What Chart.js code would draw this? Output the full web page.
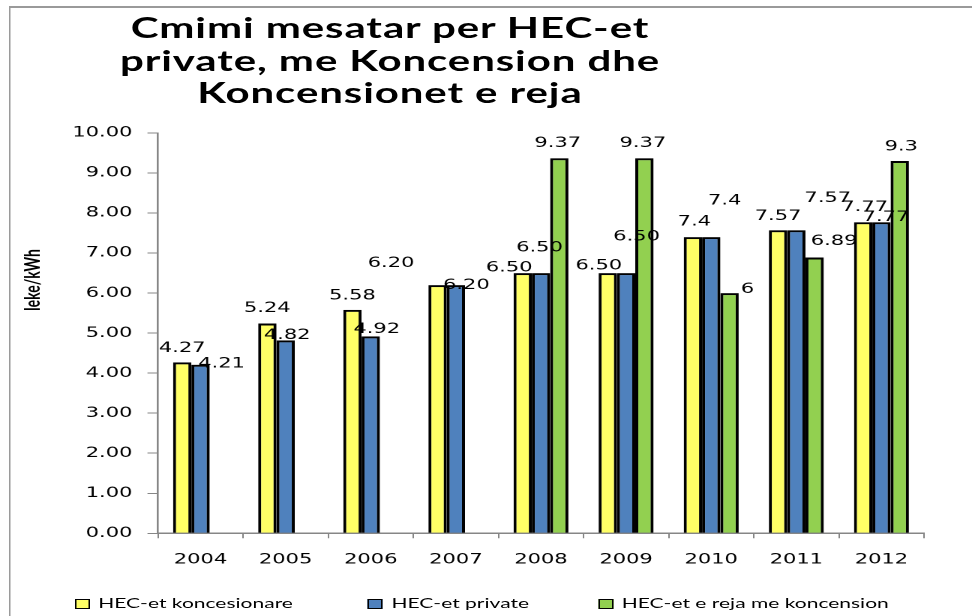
<!DOCTYPE html>
<html lang="sq">
<head>
<meta charset="UTF-8">
<title>Cmimi mesatar per HEC-et</title>
<script src="https://cdn.jsdelivr.net/npm/chart.js@4.4.0/dist/chart.umd.min.js"></script>
<style>
  html, body { margin: 0; padding: 0; background: #fff; overflow: hidden; }
  /* the original picture is an Excel chart stretched 1.5x sideways, so draw narrow and stretch */
  #wrap { position: absolute; left: 0; top: 0; width: 648px; height: 616px; transform: scaleX(1.5); transform-origin: 0 0; }
  #frame { position: absolute; left: 6px; top: 6px; width: 700px; height: 700px; border-top: 2px solid #9a9a9a; border-left: 1.4px solid #9a9a9a; }
  #title { position: absolute; left: 0; top: 11px; width: 520px; text-align: center; font: bold 28px Lato, sans-serif; letter-spacing: 0.6px; line-height: 32.5px; color: #000; }
  #c { position: absolute; left: 0; top: 0; }
  .leg { position: absolute; top: 596px; font: 14px Lato, sans-serif; color: #000; white-space: nowrap; line-height: 14px; }
  .leg i { display: inline-block; width: 8px; height: 8px; border: 1px solid #000; margin-right: 6px; vertical-align: -1px; }
</style>
</head>
<body>
<div id="wrap">
  <div id="frame"></div>
  <div id="title">Cmimi mesatar per HEC-et<br>private, me Koncension dhe<br>Koncensionet e reja</div>
  <canvas id="c" width="648" height="616"></canvas>
  <div class="leg" style="left:49.5px"><i style="background:#FFFF66"></i>HEC-et koncesionare</div>
  <div class="leg" style="left:245px"><i style="background:#4F81BD"></i>HEC-et private</div>
  <div class="leg" style="left:398.5px"><i style="background:#92D050"></i>HEC-et e reja me koncension</div>
</div>

<script>
  // Data
  const years = ['2004', '2005', '2006', '2007', '2008', '2009', '2010', '2011', '2012'];
  const koncesionare = [4.27, 5.24, 5.58, 6.20, 6.50, 6.50, 7.4, 7.57, 7.77];
  const hecPrivate = [4.21, 4.82, 4.92, 6.20, 6.50, 6.50, 7.4, 7.57, 7.77];
  const rejaKoncension = [null, null, null, null, 9.37, 9.37, 6, 6.89, 9.3];

  // label texts as printed on the chart
  const koncesionareText = ['4.27', '5.24', '5.58', '6.20', '6.50', '6.50', '7.4', '7.57', '7.77'];
  const privateText = ['4.21', '4.82', '4.92', '6.20', '6.50', '6.50', '7.4', '7.57', '7.77'];
  const rejaText = ['', '', '', '', '9.37', '9.37', '6', '6.89', '9.3'];

  // label nudges (the labels were dragged around in the original)
  const labelNudges = [
    { dx: [0, 0, 0, -31, -9, -6, 1, 0, 1], dy: [-14, -15, -14, -22, -5, -7, -15, -14, -15] },
    { dx: [14, 1, 4, 7, -1, 7, 9, 21, 3], dy: [-1, -5, -7, 0, -25, -36, -36, -32, -5] },
    { dx: [0, 0, 0, 0, -1, -1, 12, 13, 1], dy: [0, 0, 0, 0, -15, -15, -4, -16, -14] }
  ];
  const labelTexts = [koncesionareText, privateText, rejaText];

  const axisGray = '#868686';
  const tickFont = { family: 'DejaVu Sans', size: 14 };

  // bar shadow + value labels + y title
  const extras = {
    id: 'extras',
    beforeDatasetsDraw(chart) {
      const ctx = chart.ctx;
      ctx.save();
      ctx.shadowColor = 'rgba(0,0,0,0.3)';
      ctx.shadowBlur = 4;
      ctx.shadowOffsetX = 2;
      ctx.shadowOffsetY = 0;
    },
    afterDatasetsDraw(chart) {
      const ctx = chart.ctx;
      ctx.restore();
      ctx.save();
      ctx.font = '14px "DejaVu Sans"';
      ctx.fillStyle = '#000';
      ctx.textAlign = 'center';
      ctx.textBaseline = 'middle';
      chart.data.datasets.forEach((ds, di) => {
        const meta = chart.getDatasetMeta(di);
        meta.data.forEach((bar, i) => {
          if (ds.data[i] == null) return;
          const n = labelNudges[di];
          ctx.fillText(labelTexts[di][i], bar.x + n.dx[i], bar.y + n.dy[i]);
        });
      });
      ctx.restore();
    },
    afterDraw(chart) {
      const ctx = chart.ctx;
      ctx.save();
      ctx.translate(22, 280);
      ctx.rotate(-Math.PI / 2);
      ctx.font = 'bold 14px Lato';
      ctx.fillStyle = '#000';
      ctx.textAlign = 'center';
      ctx.textBaseline = 'middle';
      ctx.fillText('leke/kWh', 0, 0);
      ctx.restore();
    }
  };

  new Chart(document.getElementById('c'), {
    type: 'bar',
    data: {
      labels: years,
      datasets: [
        { label: 'HEC-et koncesionare', data: koncesionare, backgroundColor: '#FFFF66' },
        { label: 'HEC-et private', data: hecPrivate, backgroundColor: '#4F81BD' },
        { label: 'HEC-et e reja me koncension', data: rejaKoncension, backgroundColor: '#92D050' }
      ]
    },
    options: {
      responsive: false,
      animation: false,
      devicePixelRatio: 2,
      layout: { padding: { left: 0, right: 32, top: 133, bottom: 42.7 } },
      datasets: {
        bar: {
          categoryPercentage: 0.645,
          barPercentage: 1,
          borderColor: '#000',
          borderWidth: 2
        }
      },
      plugins: {
        legend: { display: false },
        tooltip: { enabled: false }
      },
      scales: {
        x: {
          grid: { offset: true, drawOnChartArea: false, tickLength: 5, color: axisGray },
          border: { color: axisGray, width: 1.5 },
          ticks: { font: tickFont, color: '#000', padding: 13, maxRotation: 0 },
          afterFit(scale) { scale.height = 40; }
        },
        y: {
          min: 0,
          max: 10,
          grid: { drawOnChartArea: false, tickLength: 7, color: axisGray },
          border: { color: axisGray, width: 1.3 },
          ticks: {
            stepSize: 1,
            font: tickFont,
            color: '#000',
            padding: 10,
            callback: v => v.toFixed(2)
          },
          afterFit(scale) { scale.width = 105.3; }
        }
      }
    },
    plugins: [extras]
  });
</script>
</body>
</html>
